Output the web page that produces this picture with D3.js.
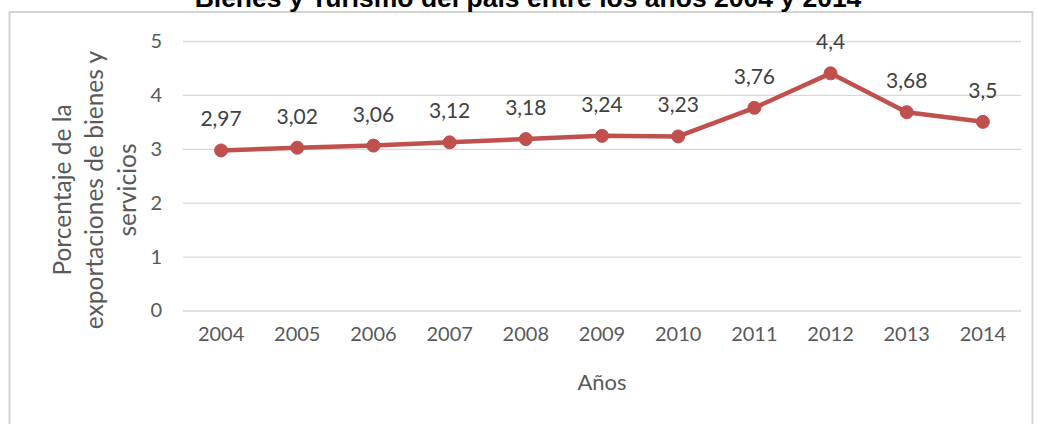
<!DOCTYPE html>
<html>
<head>
<meta charset="utf-8">
<script src="https://cdn.jsdelivr.net/npm/d3@7"></script>
<style>
  html, body { margin: 0; padding: 0; background: #ffffff; }
  svg { display: block; }
</style>
</head>
<body>
<svg id="chart" width="1037" height="424"></svg>
<script>
// Exportaciones de turismo como porcentaje de las exportaciones de bienes y servicios
const years = ["2004", "2005", "2006", "2007", "2008", "2009", "2010", "2011", "2012", "2013", "2014"];
const values = [2.97, 3.02, 3.06, 3.12, 3.18, 3.24, 3.23, 3.76, 4.4, 3.68, 3.5];
const yTicks = [0, 1, 2, 3, 4, 5];
const titleText = "Bienes y Turismo del país entre los años 2004 y 2014";
const xAxisTitle = "Años";
const yAxisTitleLines = ["Porcentaje de la", "exportaciones de bienes y", "servicios"];

const svg = d3.select("#chart");
const W = 1037, H = 424;
const plot = { left: 183, right: 1021, top: 41, bottom: 310.5 };

const labelFont = "Lato, Calibri, 'Open Sans', sans-serif";
const lineColor = "#c0504d";

// Chart frame
svg.append("rect")
  .attr("x", 9.5).attr("y", 12)
  .attr("width", 1023).attr("height", H)
  .attr("fill", "#ffffff")
  .attr("stroke", "#d4d4d4")
  .attr("stroke-width", 2);

// Title (sits above the frame, its upper part runs past the top edge)
svg.append("text")
  .attr("x", 528).attr("y", 6.5)
  .attr("text-anchor", "middle")
  .attr("font-family", "'Liberation Sans', Arial, sans-serif")
  .attr("font-weight", "bold")
  .attr("font-size", 26.5)
  .attr("fill", "#000000")
  .text(titleText);

const x = d3.scaleBand().domain(years).range([plot.left, plot.right]).padding(0);
const y = d3.scaleLinear().domain([0, 5]).range([plot.bottom, plot.top]);

// Horizontal gridlines with value labels
const yAxis = svg.append("g")
  .attr("transform", `translate(${plot.left},0)`)
  .call(d3.axisLeft(y).tickValues(yTicks).tickSize(-(plot.right - plot.left)).tickPadding(21).tickFormat(d3.format("d")));
yAxis.select(".domain").remove();
yAxis.selectAll(".tick line").attr("stroke", "#d9d9d9").attr("stroke-width", 1.3);
yAxis.selectAll(".tick text")
  .attr("font-family", labelFont)
  .attr("font-size", 20)
  .attr("fill", "#595959");

// Year labels
const xAxis = svg.append("g")
  .attr("transform", `translate(0,${plot.bottom})`)
  .call(d3.axisBottom(x).tickSize(0).tickPadding(16));
xAxis.select(".domain").remove();
xAxis.selectAll(".tick text")
  .attr("font-family", labelFont)
  .attr("font-size", 20)
  .attr("fill", "#595959");

// Axis titles
svg.append("text")
  .attr("x", (plot.left + plot.right) / 2).attr("y", 390)
  .attr("text-anchor", "middle")
  .attr("font-family", labelFont)
  .attr("font-size", 22)
  .attr("fill", "#595959")
  .text(xAxisTitle);

const yTitle = svg.append("text")
  .attr("transform", "translate(62,190) rotate(-90)")
  .attr("text-anchor", "middle")
  .attr("font-family", labelFont)
  .attr("font-size", 24.5)
  .attr("fill", "#595959");
yTitle.selectAll("tspan")
  .data(yAxisTitleLines)
  .join("tspan")
  .attr("x", 0)
  .attr("dy", (d, i) => i === 0 ? "0.35em" : "1.33em")
  .text(d => d);

// Series line and markers
const cx = d => x(d) + x.bandwidth() / 2;
const series = years.map((yr, i) => ({ year: yr, value: values[i] }));

svg.append("path")
  .datum(series)
  .attr("fill", "none")
  .attr("stroke", lineColor)
  .attr("stroke-width", 4.5)
  .attr("stroke-linejoin", "round")
  .attr("d", d3.line().x(d => cx(d.year)).y(d => y(d.value)));

svg.selectAll("circle.pt")
  .data(series)
  .join("circle")
  .attr("class", "pt")
  .attr("cx", d => cx(d.year))
  .attr("cy", d => y(d.value))
  .attr("r", 6.5)
  .attr("fill", lineColor)
  .attr("stroke", lineColor)
  .attr("stroke-width", 1);

// Value labels above the points
const fmt = v => String(v).replace(".", ",");
svg.selectAll("text.val")
  .data(series)
  .join("text")
  .attr("class", "val")
  .attr("x", d => cx(d.year))
  .attr("y", d => y(d.value) - 24)
  .attr("text-anchor", "middle")
  .attr("font-family", labelFont)
  .attr("font-size", 21)
  .attr("fill", "#404040")
  .text(d => fmt(d.value));
</script>
</body>
</html>
